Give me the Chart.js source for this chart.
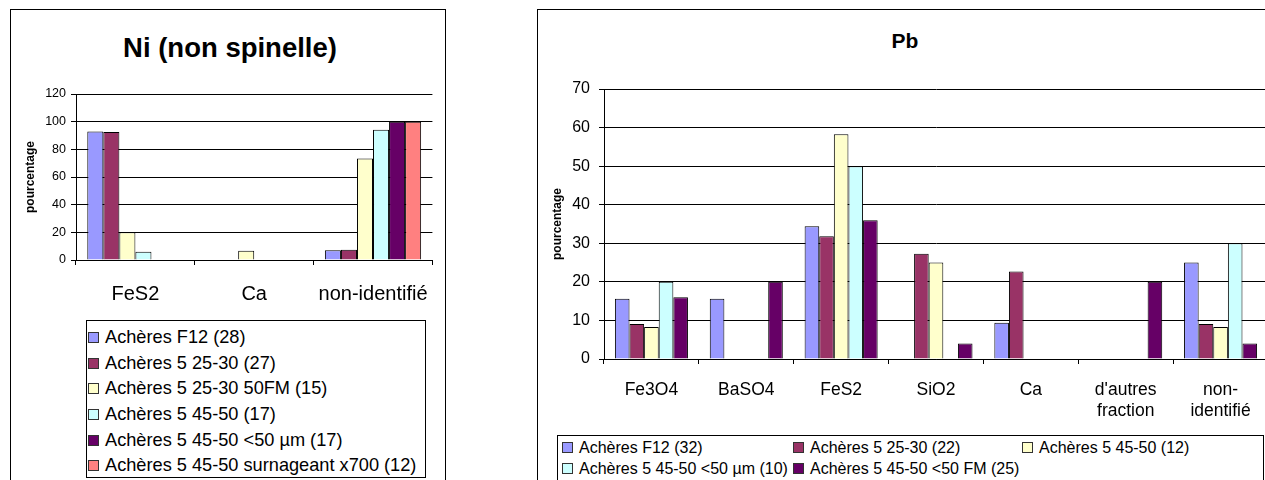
<!DOCTYPE html>
<html>
<head>
<meta charset="utf-8">
<script src="https://cdn.jsdelivr.net/npm/chart.js@4.4.1/dist/chart.umd.min.js"></script>
<style>
  html, body { margin: 0; padding: 0; background: #fff; width: 1265px; height: 480px; overflow: hidden; }
  body { position: relative; font-family: "Liberation Sans", Arial, sans-serif; }
  .frame { position: absolute; border: 1px solid #000; box-sizing: border-box; }
  .title { position: absolute; font-weight: bold; text-align: center; line-height: 1; white-space: nowrap; color: #000; }
  canvas { position: absolute; }
  .legend { position: absolute; border: 1px solid #000; box-sizing: border-box; background: #fff; color: #000; }
  .item { position: absolute; white-space: nowrap; display: flex; align-items: center; }
  .sw { width: 9px; height: 9px; border: 1px solid #333; margin-right: 6px; flex: none; }
</style>
</head>
<body>
<div class="frame" style="left:10px; top:9px; width:436px; height:480px;"></div>
<div class="frame" style="left:537px; top:9px; width:740px; height:480px;"></div>

<div class="title" style="left:10px; top:34px; width:440px; font-size:27.5px;">Ni (non spinelle)</div>
<div class="title" style="left:805px; top:30px; width:200px; font-size:21px;">Pb</div>

<canvas id="ni" width="436" height="300" style="left:10px; top:9px;"></canvas>
<canvas id="pb" width="740" height="425" style="left:537px; top:9px;"></canvas>

<div id="legNi" class="legend" style="left:86px; top:320px; width:340px; height:158px; font-size:18.2px;"></div>
<div id="legPb" class="legend" style="left:557px; top:435px; width:707px; height:60px; font-size:16px;"></div>

<script>
// ---------- Data: Ni (non spinelle) ----------
const niCategories = ['FeS2', 'Ca', 'non-identifié'];
const niSeriesNames = [
  'Achères F12 (28)',
  'Achères 5 25-30 (27)',
  'Achères 5 25-30 50FM (15)',
  'Achères 5 45-50 (17)',
  'Achères 5 45-50 <50 µm (17)',
  'Achères 5 45-50 surnageant x700 (12)'
];
const niF12 = [92.9, 0, 7.1];
const ni2530 = [92.6, 0, 7.4];
const ni2530FM = [20.0, 6.7, 73.3];
const ni4550 = [5.9, 0, 94.1];
const ni4550um = [0, 0, 100];
const ni4550surn = [0, 0, 100];
const niTicks = [0, 20, 40, 60, 80, 100, 120];

// ---------- Data: Pb ----------
const pbCategories = ['Fe3O4', 'BaSO4', 'FeS2', 'SiO2', 'Ca', ["d'autres", 'fraction'], ['non-', 'identifié']];
const pbSeriesNames = [
  'Achères F12 (32)',
  'Achères 5 25-30 (22)',
  'Achères 5 45-50 (12)',
  'Achères 5 45-50 <50 µm (10)',
  'Achères 5 45-50 <50 FM (25)'
];
const pbF12 = [15.6, 15.6, 34.4, 0, 9.4, 0, 25.0];
const pb2530 = [9.1, 0, 31.8, 27.3, 22.7, 0, 9.1];
const pb4550 = [8.3, 0, 58.3, 25.0, 0, 0, 8.3];
const pb4550um = [20.0, 0, 50.0, 0, 0, 0, 30.0];
const pb4550FM = [16.0, 20.0, 36.0, 4.0, 0, 20.0, 4.0];
const pbTicks = [0, 10, 20, 30, 40, 50, 60, 70];

// ---------- Styles ----------
const niColors = ['#9999FF', '#993366', '#FFFFCC', '#CCFFFF', '#660066', '#FF8080'];
const pbColors = ['#9999FF', '#993366', '#FFFFCC', '#CCFFFF', '#660066'];
const FONT = '"Liberation Sans", Arial, sans-serif';

function makeDatasets(names, arrays, colors, catPct) {
  return names.map((n, i) => ({
    label: n,
    data: arrays[i],
    backgroundColor: colors[i],
    borderColor: '#000',
    borderWidth: 1,
    categoryPercentage: catPct,
    barPercentage: 1
  }));
}

function makeOptions(cfg) {
  return {
    responsive: false,
    animation: false,
    devicePixelRatio: 1,
    layout: { padding: { top: cfg.padTop, right: cfg.padRight, left: 0, bottom: 0 } },
    plugins: { legend: { display: false }, title: { display: false }, tooltip: { enabled: false } },
    scales: {
      x: {
        offset: true,
        grid: { offset: true, drawOnChartArea: false, drawTicks: true, tickLength: 5, color: '#000', lineWidth: 1 },
        border: { color: '#000', width: 1 },
        ticks: { color: '#000', font: { family: FONT, size: cfg.xFont }, padding: cfg.xPad, maxRotation: 0, autoSkip: false },
        afterFit: s => { s.height = cfg.xHeight; }
      },
      y: {
        min: 0, max: cfg.max,
        afterBuildTicks: s => { s.ticks = cfg.ticks.map(v => ({ value: v })); },
        grid: { color: '#000', lineWidth: 1, drawTicks: true, tickLength: 5 },
        border: { color: '#000', width: 1 },
        ticks: { color: '#000', font: { family: FONT, size: cfg.yFont }, padding: cfg.yPad },
        title: { display: true, text: 'pourcentage', color: '#000', font: { family: FONT, size: 12, weight: 'bold' }, padding: { top: 13, bottom: 0 } },
        afterFit: s => { s.width = cfg.yWidth; }
      }
    }
  };
}

new Chart(document.getElementById('ni'), {
  type: 'bar',
  data: {
    labels: niCategories,
    datasets: makeDatasets(niSeriesNames, [niF12, ni2530, ni2530FM, ni4550, ni4550um, ni4550surn], niColors, 0.81)
  },
  options: makeOptions({ padTop: 85, padRight: 9, xHeight: 49, yWidth: 66, xFont: 20, xPad: 17, yFont: 12.5, yPad: 5, max: 120, ticks: niTicks })
});

new Chart(document.getElementById('pb'), {
  type: 'bar',
  data: {
    labels: pbCategories,
    datasets: makeDatasets(pbSeriesNames, [pbF12, pb2530, pb4550, pb4550um, pb4550FM], pbColors, 0.77)
  },
  options: makeOptions({ padTop: 80, padRight: 9, xHeight: 75, yWidth: 67, xFont: 17.5, xPad: 16, yFont: 16, yPad: 9, max: 70, ticks: pbTicks })
});

// ---------- HTML legends ----------
function buildLegend(el, names, colors, positions) {
  names.forEach((n, i) => {
    const it = document.createElement('div');
    it.className = 'item';
    it.style.left = positions[i][0] + 'px';
    it.style.top = positions[i][1] + 'px';
    it.style.height = positions[i][2] + 'px';
    const sw = document.createElement('span');
    sw.className = 'sw';
    sw.style.background = colors[i];
    const tx = document.createElement('span');
    tx.textContent = n;
    it.appendChild(sw); it.appendChild(tx);
    el.appendChild(it);
  });
}
const niRowH = 25.6;
buildLegend(document.getElementById('legNi'), niSeriesNames, niColors,
  niSeriesNames.map((n, i) => [1, 4 + i * niRowH, niRowH]));
buildLegend(document.getElementById('legPb'), pbSeriesNames, pbColors,
  [[4, 1, 21], [235, 1, 21], [464, 1, 21], [4, 22, 21], [235, 22, 21]]);
</script>
</body>
</html>
